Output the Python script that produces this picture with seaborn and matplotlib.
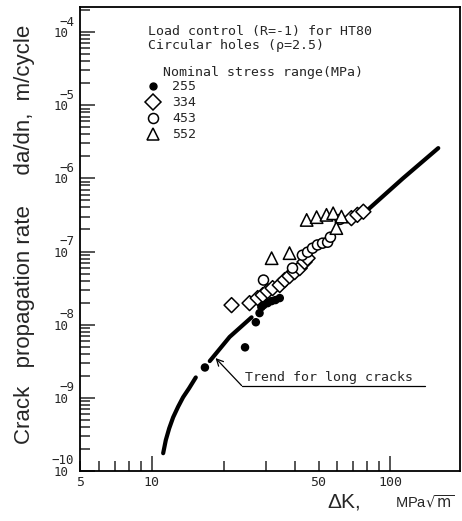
import matplotlib
matplotlib.use("Agg")
import matplotlib.pyplot as plt
from matplotlib.lines import Line2D
from matplotlib.ticker import FixedLocator, FuncFormatter, NullFormatter
import numpy as np
import pandas as pd
import seaborn as sns

# ---- measured crack growth data (dK in MPa*sqrt(m), da/dn in m/cycle) ----
dk_255 = [16.7, 24.6, 27.3, 28.3, 28.8, 29.4, 30.6, 31.8, 33.0, 34.4]
rate_255 = [2.6e-9, 4.9e-9, 1.08e-8, 1.44e-8, 1.74e-8, 1.85e-8, 1.97e-8, 2.1e-8, 2.17e-8, 2.31e-8]

dk_334 = [21.6, 25.7, 27.8, 29.2, 30.6, 32.1, 34.4, 36.1, 37.8, 39.7, 41.7, 43.7, 45.0,
          68.7, 72.8, 77.1]
rate_334 = [1.85e-8, 1.97e-8, 2.31e-8, 2.54e-8, 2.88e-8, 3.16e-8, 3.48e-8, 4.07e-8,
            4.61e-8, 5.23e-8, 5.93e-8, 7.2e-8, 8.1e-8, 2.86e-7, 3.17e-7, 3.5e-7]

dk_453 = [29.4, 38.9, 42.8, 45.0, 47.2, 49.5, 52.0, 54.6, 56.1, 61.5]
rate_453 = [4.07e-8, 5.93e-8, 8.9e-8, 9.8e-8, 1.11e-7, 1.23e-7, 1.30e-7, 1.34e-7, 1.57e-7, 2.75e-7]

dk_552 = [31.8, 37.8, 44.6, 49.1, 54.0, 57.6, 62.4, 59.4]
rate_552 = [8.1e-8, 9.5e-8, 2.7e-7, 2.95e-7, 3.17e-7, 3.33e-7, 3.0e-7, 2.09e-7]

# long-crack trend, drawn in three visible pieces
trend_seg = [1, 1, 1, 1, 1, 1, 1, 1, 2, 2, 2, 3, 3, 3]
trend_dk = [11.16, 11.45, 11.83, 12.29, 12.89, 13.53, 14.33, 15.29,
            17.5, 21.2, 26.2, 80.2, 113.0, 158.9]
trend_rate = [1.75e-10, 2.65e-10, 3.83e-10, 5.42e-10, 7.55e-10, 1.02e-9, 1.35e-9, 1.90e-9,
              3.18e-9, 6.8e-9, 1.26e-8, 3.68e-7, 1.0e-6, 2.59e-6]

stress_labels = ["255", "334", "453", "552"]
x_major = [10, 100]
x_minor = [5, 6, 7, 8, 9, 20, 30, 40, 50, 60, 70, 80, 90]
x_labelled = [5, 10, 50, 100]
y_exponents = [-10, -9, -8, -7, -6, -5, -4]

pts = pd.concat([
    pd.DataFrame({"dk": dk_334, "rate": rate_334, "stress": "334"}),
    pd.DataFrame({"dk": dk_453, "rate": rate_453, "stress": "453"}),
    pd.DataFrame({"dk": dk_552, "rate": rate_552, "stress": "552"}),
    pd.DataFrame({"dk": dk_255, "rate": rate_255, "stress": "255"}),
], ignore_index=True)
trend = pd.DataFrame({"dk": trend_dk, "rate": trend_rate, "seg": trend_seg})

sns.set_theme(style="ticks")
plt.rcParams["font.family"] = ["DejaVu Sans Mono", "DejaVu Sans"]
plt.rcParams["mathtext.fontset"] = "dejavusans"
plt.rcParams["axes.edgecolor"] = "black"
plt.rcParams["axes.linewidth"] = 1.3

W, H = 462, 521
fig = plt.figure(figsize=(W / 100, H / 100), dpi=100)
fig.patch.set_facecolor("white")
ax = fig.add_axes([80 / W, 1 - 471 / H, (460 - 80) / W, (471 - 7) / H])
ax.set_facecolor("white")
ax.set_xscale("log")
ax.set_yscale("log")

sns.lineplot(data=trend, x="dk", y="rate", units="seg", estimator=None, sort=False,
             color="black", lw=3.0, ax=ax, zorder=2)

sns.scatterplot(data=pts, x="dk", y="rate", hue="stress", style="stress", size="stress",
                palette={"255": "black", "334": "white", "453": "white", "552": "white"},
                markers={"255": "o", "334": "D", "453": "o", "552": "^"},
                sizes={"255": 25, "334": 58, "453": 52, "552": 80},
                edgecolor="black", linewidth=1.1, legend=False, ax=ax, zorder=3)

ax.set_xlim(5, 196)
ax.set_ylim(1e-10, 10 ** -3.658)
ax.set_xlabel("")
ax.set_ylabel("")

# x ticks: long at decades, short elsewhere, labels at 5, 10, 50, 100
ax.xaxis.set_major_locator(FixedLocator(x_major))
ax.xaxis.set_minor_locator(FixedLocator(x_minor))
fmt = FuncFormatter(lambda v, p: f"{v:g}" if any(abs(v - t) < 1e-6 for t in x_labelled) else "")
ax.xaxis.set_major_formatter(fmt)
ax.xaxis.set_minor_formatter(fmt)
ax.tick_params(axis="x", which="major", direction="in", length=10.5, width=1.1,
               labelsize=9.5, pad=3.5, top=False)
ax.tick_params(axis="x", which="minor", direction="in", length=7.5, width=1.1,
               labelsize=9.5, pad=3.5, top=False)

# y ticks: decades plus 2..9 subdivisions, labels written as stacked exponent
ax.yaxis.set_major_locator(FixedLocator([10.0 ** e for e in y_exponents]))
ax.yaxis.set_minor_locator(FixedLocator([m * 10.0 ** e for e in range(-10, -3)
                                         for m in range(2, 10) if m * 10.0 ** e < 10 ** -3.658]))
ax.yaxis.set_major_formatter(NullFormatter())
ax.yaxis.set_minor_formatter(NullFormatter())
ax.tick_params(axis="y", which="major", direction="in", length=10.5, width=1.1, right=False)
ax.tick_params(axis="y", which="minor", direction="in", length=7.0, width=1.1, right=False)
for e in y_exponents:
    ax.annotate("10", xy=(0, 10.0 ** e), xycoords=("axes fraction", "data"),
                xytext=(-11, -1.5), textcoords="offset pixels",
                ha="right", va="center", fontsize=9)
    ax.annotate(f"\u2212{-e}", xy=(0, 10.0 ** e), xycoords=("axes fraction", "data"),
                xytext=(-6, 10), textcoords="offset pixels",
                ha="right", va="center", fontsize=9)

# long-crack trend label with leader
ax.annotate("", xy=(18.5, 3.5e-9), xytext=(23.8, 1.47e-9),
            arrowprops=dict(arrowstyle="->", lw=0.9, color="black", shrinkA=0, shrinkB=0))
ax.plot([23.8, 140], [1.47e-9, 1.47e-9], color="black", lw=0.9)
ax.text(24.5, 1.92e-9, "Trend for long cracks", ha="left", va="center", fontsize=9.5)

# header text
fig.text(148 / W, 1 - 32 / H, "Load control (R=-1) for HT80", ha="left", va="center", fontsize=9.5)
fig.text(148 / W, 1 - 46 / H, "Circular holes (\u03c1=2.5)", ha="left", va="center", fontsize=9.5)
fig.text(163 / W, 1 - 72 / H, "Nominal stress range(MPa)", ha="left", va="center", fontsize=9.5)

handles = [
    Line2D([], [], ls="none", marker="o", ms=5, mfc="black", mec="black"),
    Line2D([], [], ls="none", marker="D", ms=8, mfc="white", mec="black", mew=1.1),
    Line2D([], [], ls="none", marker="o", ms=7.2, mfc="white", mec="black", mew=1.1),
    Line2D([], [], ls="none", marker="^", ms=9.0, mfc="white", mec="black", mew=1.1),
]
ax.legend(handles, stress_labels, loc="upper left",
          bbox_to_anchor=(146 / W, 1 - 80.5 / H), bbox_transform=fig.transFigure,
          frameon=False, handlelength=1.0, handletextpad=0.97, labelspacing=0.22,
          borderpad=0, borderaxespad=0, prop={"family": "DejaVu Sans Mono", "size": 9.5})

# axis titles
fig.text(25 / W, 1 - 234 / H, "Crack   propagation rate     da/dn,  m/cycle",
         rotation=90, ha="center", va="center", fontsize=16, family="Liberation Sans")
fig.text(327 / W, 1 - 508 / H, "\u0394K,", ha="left", va="baseline", fontsize=15,
         family="Liberation Sans")
fig.text(395 / W, 1 - 507 / H, r"MPa$\sqrt{\mathrm{m}}$", ha="left", va="baseline",
         fontsize=10.5, family="Liberation Sans")

fig.savefig("out.png", dpi=100, facecolor="white")
